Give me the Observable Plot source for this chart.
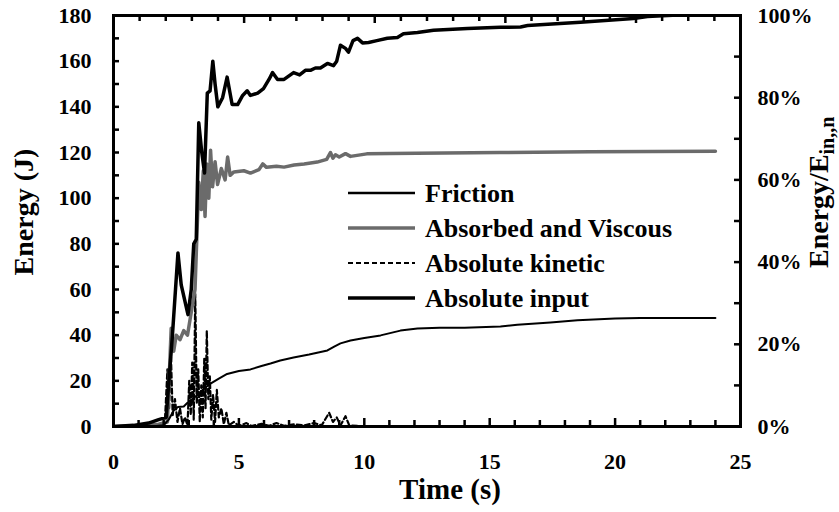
<!DOCTYPE html>
<html><head><meta charset="utf-8">
<script src="https://cdn.jsdelivr.net/npm/d3@7"></script>
<script src="https://cdn.jsdelivr.net/npm/@observablehq/plot@0.6"></script>
<style>body{margin:0;background:#fff}#chart{width:839px;height:512px}</style>
</head><body><div id="chart"></div>
<script>
// ---- data (time in s, energy in J) ----
const inputT = [0,0.8,1.4,1.8,2.1,2.35,2.57,2.7,2.97,3.1,3.2,3.3,3.4,3.52,3.63,3.74,3.85,3.96,4.05,4.16,4.35,4.53,4.73,4.95,5.15,5.33,5.46,5.75,5.98,6.2,6.34,6.54,6.8,7.18,7.42,7.65,7.85,8.05,8.25,8.53,8.77,8.9,9.05,9.25,9.37,9.55,9.73,9.93,10.17,10.5,10.92,11.32,11.56,12.12,12.76,14.11,15.43,16.23,16.51,18.62,20.73,21.29,22.5,24];
const inputE = [0,0.5,1.5,3,4,40,76,62,49,60,80,82,133,120,111,146,147,160,150,140,144,153,141,141,145,147,145,146,148,152,155,152,152,155,154,156,156,157,157,159,158,160,167,165.6,164,169,170,168,168.2,169,170,170.4,172,172.6,173.5,174.3,174.8,175,175.6,177,178.7,179.6,180.2,181];

const absorbedT = [0,1,1.8,2.15,2.3,2.4,2.5,2.65,2.8,2.95,3.1,3.25,3.4,3.5,3.58,3.65,3.72,3.8,3.87,3.95,4.05,4.15,4.3,4.45,4.55,4.65,4.8,5.2,5.46,5.8,5.95,6.1,6.5,6.8,7.2,7.6,8.12,8.5,8.65,8.75,8.85,9.0,9.25,9.45,10.1,11,12.1,15.4,19,24];
const absorbedE = [0,0.3,1,2,43,33,40,38,42,40,50,60,107,95,112,92,115,100,121,105,116,106,113,108,118,110,111.5,112,111,112.5,115,113.5,114,113.6,114.5,115,115.8,117,120,117.5,119,118,119.5,118.3,119.4,119.6,119.7,120,120.3,120.5];

const frictionT = [0,1.5,2.0,2.2,2.4,2.57,2.8,2.97,3.2,3.4,3.6,3.85,4.2,4.53,5,5.46,5.9,6.26,6.65,7.18,7.8,8.53,8.8,9.05,9.45,10,10.65,11.44,12.12,13,14,15.43,16.1,17.42,18.5,20,21,24];
const frictionE = [0,0,0.5,3,7,8.5,8.8,10.6,12.5,14.3,16.5,18.7,21,23,24.3,25,26.5,27.6,28.9,30.2,31.5,33.3,35,36.4,37.7,38.8,39.9,42,42.9,43.2,43.3,43.8,44.6,45.6,46.5,47.3,47.5,47.5];

const kineticT = [0,1.5,1.9,2.05,2.15,2.22,2.28,2.36,2.45,2.55,2.65,2.75,2.85,2.95,3.02,3.08,3.14,3.2,3.26,3.32,3.38,3.44,3.5,3.56,3.62,3.67,3.72,3.78,3.84,3.9,3.97,4.05,4.12,4.2,4.3,4.4,4.5,4.6,4.8,5.0,5.3,5.5,5.9,6.2,6.5,6.8,7.2,7.6,8.0,8.3,8.6,8.75,8.9,9.05,9.25,9.4,10,24];
const kineticE = [0,0,0.5,2,25,8,35,5,12,2,8,1,4,0.5,20,5,28,3,58,10,25,2,18,4,30,8,42,12,22,3,14,2,16,4,8,1,6,0.5,2,0.3,1.5,0.2,1.2,0.3,1.5,0.3,1,0.5,1.5,0.5,6,2,4,0.5,4.5,0.5,0,0];

const seriesNames = ["Friction","Absorbed and Viscous","Absolute kinetic","Absolute input"];

// ---- axes ticks ----
const xLabels = [0,5,10,15,20,25];
const xMinor = d3.range(1,25);
const topMinor = d3.range(1,24);        // secondary (hidden) top axis, 0..24
const topSpan = 24;
const yLabels = [0,20,40,60,80,100,120,140,160,180];
const yMinor = d3.range(10,180,10);
const pctLabels = [0,20,40,60,80,100];
const pctMinor = [10,20,30,40,50,60,70,80,90];
const eMax = 180; // 100%

const rows = (T,E) => T.map((t,i)=>({t, e:E[i]}));

const W=839,H=512,mL=113,mR=99,mT=15,mB=86;
const innerW=W-mL-mR, innerH=H-mT-mB;
const xMax=25, yMax=180;
const tkY = px => px*yMax/innerH;   // tick length in y units
const tkX = px => px*xMax/innerW;   // tick length in x units
const FONT="'Liberation Serif','Times New Roman',serif";
const ax = {fontSize:22, fontWeight:"bold", fontFamily:FONT, fill:"#000"};
const tk = {stroke:"#000", strokeWidth:2.5};

const plot = Plot.plot({
  width:W, height:H, marginLeft:mL, marginRight:mR, marginTop:mT, marginBottom:mB,
  style:{fontFamily:FONT, fontWeight:"bold", background:"#fff", color:"#000", overflow:"visible"},
  x:{domain:[0,xMax]}, y:{domain:[0,yMax]},
  marks:[
    Plot.line(rows(kineticT,kineticE), {x:"t", y:"e", stroke:"#000", strokeWidth:2.2, strokeDasharray:"5,3", clip:true}),
    Plot.line(rows(absorbedT,absorbedE), {x:"t", y:"e", stroke:"#6b6b6b", strokeWidth:3.5, clip:true}),
    Plot.line(rows(frictionT,frictionE), {x:"t", y:"e", stroke:"#000", strokeWidth:2, clip:true}),
    Plot.line(rows(inputT,inputE), {x:"t", y:"e", stroke:"#000", strokeWidth:3.5, clip:true}),
    Plot.frame({stroke:"#000", strokeWidth:3}),
    // inward ticks
    Plot.ruleX(xMinor, {x:d=>d, y1:0, y2:d=>tkY(d%5===0?8:6), ...tk}),
    Plot.ruleX(topMinor, {x:d=>d*xMax/topSpan, y1:yMax, y2:d=>yMax-tkY(d%5===0?8:6), ...tk}),
    Plot.ruleY(yMinor, {y:d=>d, x1:0, x2:tkX(6), ...tk}),
    Plot.ruleY(pctMinor, {y:d=>d*eMax/100, x1:xMax, x2:xMax-tkX(6), ...tk}),
    Plot.axisX({ticks:xLabels, tickSize:0, tickPadding:27, label:null, ...ax}),
    Plot.axisY({ticks:yLabels, tickSize:0, tickPadding:22, label:null, ...ax}),
    Plot.axisY({anchor:"right", ticks:pctLabels.map(p=>p*eMax/100), tickFormat:d=>`${Math.round(d*100/eMax)}%`, tickSize:0, tickPadding:17, label:null, ...ax})
  ]
});

const svg = d3.select(plot);
const txt = (sel)=>sel.attr("font-family",FONT).attr("font-weight","bold").attr("fill","#000");
txt(svg.append("text")).attr("transform","translate(33,212) rotate(-90)").attr("text-anchor","middle").attr("font-size",28).text("Energy (J)");
txt(svg.append("text")).attr("x",450).attr("y",499).attr("text-anchor","middle").attr("font-size",29).text("Time (s)");
const rt = txt(svg.append("text")).attr("transform","translate(828,268) rotate(-90)").attr("text-anchor","start").attr("font-size",28);
rt.append("tspan").text("Energy/E");
rt.append("tspan").attr("font-size",20).attr("dy",6).text("in,,n");

// legend
const legStyles = [
  {stroke:"#000", w:2.5, dash:null},
  {stroke:"#6b6b6b", w:3.5, dash:null},
  {stroke:"#000", w:2.2, dash:"5,3"},
  {stroke:"#000", w:3.5, dash:null}
];
const lg = svg.append("g");
seriesNames.forEach((name,i)=>{
  const y = 193 + i*35;
  const s = legStyles[i];
  lg.append("line").attr("x1",348).attr("x2",415).attr("y1",y).attr("y2",y)
    .attr("stroke",s.stroke).attr("stroke-width",s.w).attr("stroke-dasharray",s.dash);
  txt(lg.append("text")).attr("x",425).attr("y",y+9).attr("text-anchor","start").attr("font-size",26).text(name);
});

document.getElementById("chart").appendChild(plot);
</script>
</body></html>
